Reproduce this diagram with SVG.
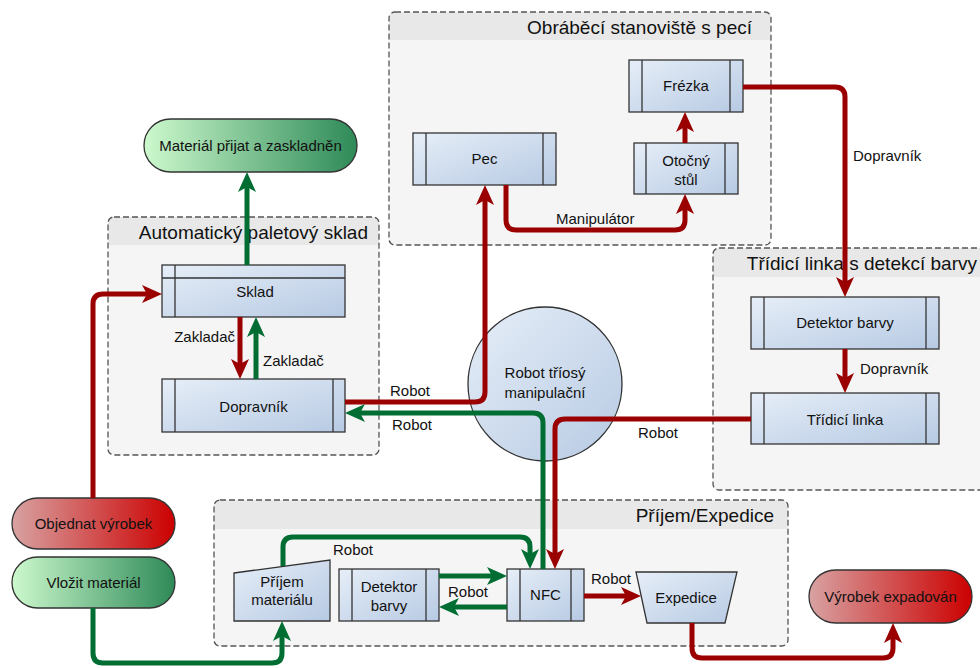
<svg xmlns="http://www.w3.org/2000/svg" width="980" height="668" viewBox="0 0 980 668">
  <style>
    text { font-family: "Liberation Sans", Arial, sans-serif; fill: #111; }
    .title { font-size: 19px; text-anchor: end; }
    .lbl { font-size: 15px; }
    .nt { font-size: 15px; text-anchor: middle; }
    .grp { fill: #f5f5f5; }
    .grp-head { fill: #e8e8e8; }
    .grp-border { fill: none; stroke: #555; stroke-width: 1.3; stroke-dasharray: 6 3; }
    .proc { fill: url(#gBlue); stroke: #333; stroke-width: 1.3; }
    .bar { stroke: #333; stroke-width: 1.3; }
    .term-g { fill: url(#gGreen); stroke: #333; stroke-width: 1.3; }
    .term-r { fill: url(#gRed); stroke: #333; stroke-width: 1.3; }
    .red { fill: none; stroke: #9a0000; stroke-width: 5; }
    .green { fill: none; stroke: #006e33; stroke-width: 5; }
  </style>
  <defs>
    <linearGradient id="gBlue" x1="0" y1="0" x2="1" y2="1">
      <stop offset="0" stop-color="#e6eef8"/>
      <stop offset="1" stop-color="#b7cae3"/>
    </linearGradient>
    <linearGradient id="gGreen" x1="0" y1="0" x2="1" y2="0">
      <stop offset="0" stop-color="#cdf9cd"/>
      <stop offset="1" stop-color="#2e8a58"/>
    </linearGradient>
    <linearGradient id="gRed" x1="0" y1="0" x2="1" y2="0">
      <stop offset="0" stop-color="#d8a2a2"/>
      <stop offset="1" stop-color="#cc0000"/>
    </linearGradient>
    <marker id="arR" markerUnits="userSpaceOnUse" viewBox="-6 -10 22 20" refX="0" refY="0" markerWidth="22" markerHeight="20" orient="auto">
      <path d="M-5,-9 L15,0 L-5,9 L0,0 Z" fill="#9a0000"/>
    </marker>
    <marker id="arG" markerUnits="userSpaceOnUse" viewBox="-6 -10 22 20" refX="0" refY="0" markerWidth="22" markerHeight="20" orient="auto">
      <path d="M-5,-9 L15,0 L-5,9 L0,0 Z" fill="#006e33"/>
    </marker>
  </defs>

  <rect width="980" height="668" fill="#ffffff"/>

  <!-- Swimlane containers -->
  <g id="grp-obrabeci">
    <rect class="grp" x="389" y="12" width="382" height="233" rx="6"/>
    <path class="grp-head" d="M389,40 L389,18 Q389,12 395,12 L765,12 Q771,12 771,18 L771,40 Z"/>
    <rect class="grp-border" x="389" y="12" width="382" height="233" rx="6"/>
    <text class="title" x="752" y="34">Obráběcí stanoviště s pecí</text>
  </g>
  <g id="grp-sklad">
    <rect class="grp" x="108" y="217" width="271" height="238" rx="6"/>
    <path class="grp-head" d="M108,245 L108,223 Q108,217 114,217 L373,217 Q379,217 379,223 L379,245 Z"/>
    <rect class="grp-border" x="108" y="217" width="271" height="238" rx="6"/>
    <text class="title" x="368" y="239">Automatický paletový sklad</text>
  </g>
  <g id="grp-tridici">
    <rect class="grp" x="713" y="248" width="290" height="242" rx="6"/>
    <path class="grp-head" d="M713,277 L713,254 Q713,248 719,248 L1003,248 L1003,277 Z"/>
    <rect class="grp-border" x="713" y="248" width="290" height="242" rx="6"/>
    <text class="title" x="977" y="270">Třídicí linka s detekcí barvy</text>
  </g>
  <g id="grp-prijem">
    <rect class="grp" x="214" y="500" width="574" height="146" rx="6"/>
    <path class="grp-head" d="M214,529 L214,506 Q214,500 220,500 L782,500 Q788,500 788,506 L788,529 Z"/>
    <rect class="grp-border" x="214" y="500" width="574" height="146" rx="6"/>
    <text class="title" x="774" y="522">Příjem/Expedice</text>
  </g>

  <!-- Terminators -->
  <g id="t-material-prijat">
    <rect class="term-g" x="144" y="119" width="213" height="53" rx="26.5"/>
    <text class="nt" x="250.5" y="151">Materiál přijat a zaskladněn</text>
  </g>
  <g id="t-objednat">
    <rect class="term-r" x="12" y="498" width="163" height="51" rx="25.5"/>
    <text class="nt" x="93.5" y="529">Objednat výrobek</text>
  </g>
  <g id="t-vlozit">
    <rect class="term-g" x="12" y="557" width="163" height="51" rx="25.5"/>
    <text class="nt" x="93.5" y="588">Vložit materiál</text>
  </g>
  <g id="t-vyrobek">
    <rect class="term-r" x="809" y="570" width="163" height="53" rx="26.5"/>
    <text class="nt" x="890.5" y="602">Výrobek expadován</text>
  </g>

  <!-- Process nodes -->
  <g id="n-pec">
    <rect class="proc" x="413" y="133" width="143" height="52"/>
    <line class="bar" x1="426" y1="133" x2="426" y2="185"/>
    <line class="bar" x1="543" y1="133" x2="543" y2="185"/>
    <text class="nt" x="484.5" y="164">Pec</text>
  </g>
  <g id="n-frezka">
    <rect class="proc" x="629" y="60" width="114" height="52"/>
    <line class="bar" x1="642" y1="60" x2="642" y2="112"/>
    <line class="bar" x1="730" y1="60" x2="730" y2="112"/>
    <text class="nt" x="686" y="91">Frézka</text>
  </g>
  <g id="n-otocny">
    <rect class="proc" x="634" y="143" width="104" height="51"/>
    <line class="bar" x1="646" y1="143" x2="646" y2="194"/>
    <line class="bar" x1="725" y1="143" x2="725" y2="194"/>
    <text class="nt" x="686" y="166">Otočný</text>
    <text class="nt" x="686" y="185">stůl</text>
  </g>
  <g id="n-sklad">
    <rect class="proc" x="162" y="265" width="183" height="52"/>
    <line class="bar" x1="162" y1="278" x2="345" y2="278"/>
    <line class="bar" x1="175" y1="265" x2="175" y2="317"/>
    <text class="nt" x="255" y="297">Sklad</text>
  </g>
  <g id="n-dopravnik">
    <rect class="proc" x="162" y="379" width="183" height="53"/>
    <line class="bar" x1="175" y1="379" x2="175" y2="432"/>
    <line class="bar" x1="333" y1="379" x2="333" y2="432"/>
    <text class="nt" x="253.5" y="412">Dopravník</text>
  </g>
  <g id="n-detektor">
    <rect class="proc" x="751" y="297" width="188" height="52"/>
    <line class="bar" x1="764" y1="297" x2="764" y2="349"/>
    <line class="bar" x1="926" y1="297" x2="926" y2="349"/>
    <text class="nt" x="845" y="328">Detektor barvy</text>
  </g>
  <g id="n-tridici">
    <rect class="proc" x="751" y="393" width="188" height="51"/>
    <line class="bar" x1="764" y1="393" x2="764" y2="444"/>
    <line class="bar" x1="926" y1="393" x2="926" y2="444"/>
    <text class="nt" x="845" y="425">Třídicí linka</text>
  </g>
  <g id="n-robot">
    <circle class="proc" cx="545" cy="384" r="77"/>
    <text class="nt" x="545" y="378">Robot tříosý</text>
    <text class="nt" x="545" y="398">manipulační</text>
  </g>
  <g id="n-prijem">
    <path class="proc" d="M234,573 L330,560 L330,621 L234,621 Z"/>
    <text class="nt" x="282" y="587">Příjem</text>
    <text class="nt" x="282" y="605">materiálu</text>
  </g>
  <g id="n-detektor2">
    <rect class="proc" x="339" y="569" width="100" height="52"/>
    <line class="bar" x1="352" y1="569" x2="352" y2="621"/>
    <line class="bar" x1="426" y1="569" x2="426" y2="621"/>
    <text class="nt" x="389" y="592">Detektor</text>
    <text class="nt" x="389" y="611">barvy</text>
  </g>
  <g id="n-nfc">
    <rect class="proc" x="507" y="569" width="77" height="52"/>
    <line class="bar" x1="520" y1="569" x2="520" y2="621"/>
    <line class="bar" x1="571" y1="569" x2="571" y2="621"/>
    <text class="nt" x="545.5" y="600">NFC</text>
  </g>
  <g id="n-expedice">
    <path class="proc" d="M636,572 L737,572 L725,623 L647,623 Z"/>
    <text class="nt" x="686" y="603">Expedice</text>
  </g>

  <!-- Connectors -->
  <g id="connectors">
    <path class="red" marker-end="url(#arR)" d="M743,87 L835,87 Q845,87 845,97 L845,282"/>
    <path class="red" marker-end="url(#arR)" d="M506,185 L506,220 Q506,230 516,230 L675,230 Q685,230 685,220 L685,209"/>
    <path class="red" marker-end="url(#arR)" d="M685,143 L685,127"/>
    <path class="red" marker-end="url(#arR)" d="M345,402 L475,402 Q485,402 485,392 L485,200"/>
    <path class="green" marker-end="url(#arG)" d="M543,569 L543,423 Q543,413 533,413 L360,413"/>
    <path class="red" marker-end="url(#arR)" d="M751,419 L565,419 Q555,419 555,429 L555,554"/>
    <path class="red" marker-end="url(#arR)" d="M845,349 L845,378"/>
    <path class="red" marker-end="url(#arR)" d="M240,317 L240,364"/>
    <path class="green" marker-end="url(#arG)" d="M256,379 L256,332"/>
    <path class="green" marker-end="url(#arG)" d="M247,265 L247,187"/>
    <path class="red" marker-end="url(#arR)" d="M93,498 L93,304 Q93,294 103,294 L147,294"/>
    <path class="green" marker-end="url(#arG)" d="M93,608 L93,653 Q93,663 103,663 L272,663 Q282,663 282,653 L282,636"/>
    <path class="green" marker-end="url(#arG)" d="M283,566 L283,547 Q283,537 293,537 L520,537 Q530,537 530,547 L530,554"/>
    <path class="green" marker-end="url(#arG)" d="M439,576 L492,576"/>
    <path class="green" marker-end="url(#arG)" d="M507,607 L454,607"/>
    <path class="red" marker-end="url(#arR)" d="M584,596 L626,596"/>
    <path class="red" marker-end="url(#arR)" d="M692,623 L692,648 Q692,658 702,658 L883,658 Q893,658 893,648 L893,638"/>
  </g>

  <!-- Connector labels -->
  <g id="connector-labels">
    <text class="lbl" x="853" y="161">Dopravník</text>
    <text class="lbl" x="556" y="224">Manipulátor</text>
    <text class="lbl" x="390" y="396">Robot</text>
    <text class="lbl" x="392" y="430">Robot</text>
    <text class="lbl" x="638" y="438">Robot</text>
    <text class="lbl" x="860" y="374">Dopravník</text>
    <text class="lbl" x="235" y="342" text-anchor="end">Zakladač</text>
    <text class="lbl" x="263" y="366">Zakladač</text>
    <text class="lbl" x="333" y="555">Robot</text>
    <text class="lbl" x="448" y="597">Robot</text>
    <text class="lbl" x="591" y="584">Robot</text>
  </g>
</svg>
